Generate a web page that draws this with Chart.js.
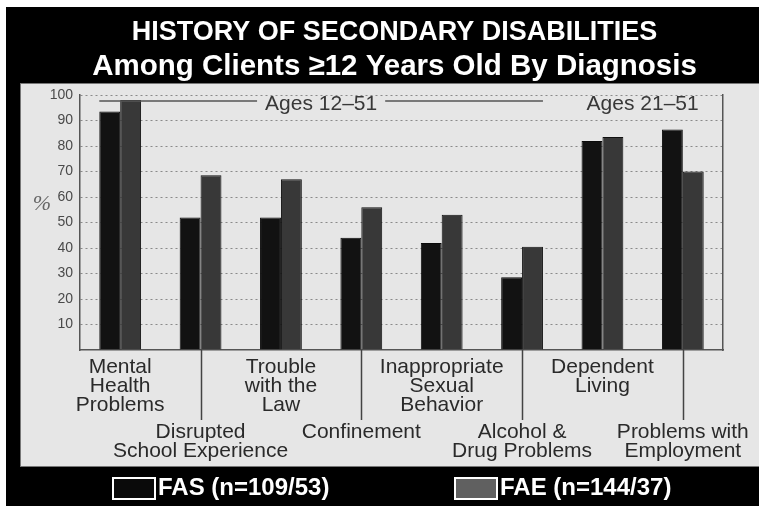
<!DOCTYPE html>
<html>
<head>
<meta charset="utf-8">
<title>History of Secondary Disabilities</title>
<script src="https://cdn.jsdelivr.net/npm/chart.js@4/dist/chart.umd.min.js"></script>
<style>
  html, body { margin: 0; padding: 0; background: #fff; }
  #chart { position: absolute; left: 6px; top: 7px; background: #000; }
</style>
</head>
<body>
<canvas id="chart" width="753" height="499"></canvas>
<script>
const categories = [
  ['Mental', 'Health', 'Problems'],
  ['Disrupted', 'School Experience'],
  ['Trouble', 'with the', 'Law'],
  ['Confinement'],
  ['Inappropriate', 'Sexual', 'Behavior'],
  ['Alcohol &', 'Drug Problems'],
  ['Dependent', 'Living'],
  ['Problems with', 'Employment'],
];
const fasValues = [93.5, 52, 52, 44, 42, 28.5, 82, 86.5];
const faeValues = [98, 68.5, 67, 56, 53, 40.5, 83.5, 70];
const seriesLabels = ['FAS (n=109/53)', 'FAE (n=144/37)'];
const ageGroups = ['Ages 12–51', 'Ages 21–51'];
const ageGroupSpans = [[0, 5], [6, 7]];
const yMax = 100;
const yStep = 10;

const CATEGORY_PCT = 0.52;
const LABEL_FONT = { size: 21, lineHeight: '19px' };
const LABEL_COLOR = '#2a2a2a';

Chart.defaults.font.family = "'Liberation Sans', Arial, sans-serif";

// Light gray slide panel behind the plot
const panelPlugin = {
  id: 'panel',
  beforeDraw(chart) {
    const { ctx, chartArea } = chart;
    const top = chartArea.top - 12;
    const bottom = chart.scales.x2.bottom + 5;
    const left = chartArea.left - 60;
    ctx.save();
    ctx.fillStyle = '#e6e6e6';
    ctx.fillRect(left, top, chart.width - left, bottom - top);
    ctx.strokeStyle = '#777';
    ctx.lineWidth = 1;
    ctx.strokeRect(left + 0.5, top + 0.5, chart.width - left, bottom - top);
    ctx.restore();
  },
};

// Age group headers, the % sign and the leader lines to the lower labels
const notesPlugin = {
  id: 'notes',
  afterDatasetsDraw(chart) {
    const { ctx, chartArea } = chart;
    const x = chart.scales.x;
    const y = chart.scales.y;
    const half = (x.getPixelForValue(1) - x.getPixelForValue(0)) * CATEGORY_PCT / 2;
    const textY = y.getPixelForValue(96.5);
    const lineY = y.getPixelForValue(97.6);

    ctx.save();
    ctx.font = "21px 'Liberation Sans', Arial, sans-serif";
    ctx.fillStyle = '#383838';
    ctx.strokeStyle = '#555';
    ctx.lineWidth = 1.5;
    ctx.textAlign = 'center';
    ctx.textBaseline = 'middle';
    ageGroups.forEach((label, i) => {
      const [from, to] = ageGroupSpans[i];
      const left = x.getPixelForValue(from) - half;
      const right = x.getPixelForValue(to) + half;
      const mid = (left + right) / 2;
      const w = ctx.measureText(label).width;
      ctx.fillText(label, mid, textY);
      if (right - left - w > 16) {
        ctx.beginPath();
        ctx.moveTo(left, lineY);
        ctx.lineTo(mid - w / 2 - 8, lineY);
        ctx.moveTo(mid + w / 2 + 8, lineY);
        ctx.lineTo(right, lineY);
        ctx.stroke();
      }
    });

    ctx.strokeStyle = '#444';
    ctx.beginPath();
    categories.forEach((c, i) => {
      if (i % 2 === 1) {
        const px = Math.round(x.getPixelForValue(i)) + 0.5;
        ctx.moveTo(px, chartArea.bottom);
        ctx.lineTo(px, chartArea.bottom + 70);
      }
    });
    ctx.stroke();

    ctx.font = "italic 22px 'Liberation Serif', serif";
    ctx.fillStyle = '#666';
    ctx.fillText('%', chartArea.left - 38, y.getPixelForValue(57));
    ctx.restore();
  },
};

// Legend under the panel
const legendPlugin = {
  id: 'slideLegend',
  afterDraw(chart) {
    const { ctx } = chart;
    const lefts = [107, 449];
    const cy = chart.height - 18;
    ctx.save();
    ctx.font = "bold 24px 'Liberation Sans', Arial, sans-serif";
    ctx.textBaseline = 'middle';
    ctx.textAlign = 'left';
    chart.data.datasets.forEach((ds, i) => {
      const bx = lefts[i];
      ctx.fillStyle = ds.legendColor;
      ctx.fillRect(bx, cy - 10, 42, 21);
      ctx.strokeStyle = '#fff';
      ctx.lineWidth = 2;
      ctx.strokeRect(bx, cy - 10, 42, 21);
      ctx.fillStyle = '#fff';
      ctx.fillText(ds.label, bx + 45, cy);
    });
    ctx.restore();
  },
};

new Chart(document.getElementById('chart'), {
  type: 'bar',
  data: {
    labels: categories,
    datasets: [
      {
        label: seriesLabels[0],
        data: fasValues,
        backgroundColor: '#121212',
        borderColor: '#0a0a0a',
        borderWidth: 1,
        legendColor: '#0a0a0a',
      },
      {
        label: seriesLabels[1],
        data: faeValues,
        backgroundColor: '#383838',
        borderColor: '#111',
        borderWidth: 1,
        legendColor: '#606060',
      },
    ],
  },
  options: {
    responsive: false,
    animation: false,
    layout: { padding: { left: 24, right: 0, top: 0, bottom: 45 } },
    datasets: {
      bar: { barPercentage: 1, categoryPercentage: CATEGORY_PCT },
    },
    plugins: {
      legend: { display: false },
      tooltip: { enabled: false },
      title: {
        display: true,
        text: 'HISTORY OF SECONDARY DISABILITIES',
        color: '#fff',
        font: { size: 27, weight: 'bold', lineHeight: '32px' },
        padding: { top: 10, bottom: 0 },
      },
      subtitle: {
        display: true,
        text: 'Among Clients ≥12 Years Old By Diagnosis',
        color: '#fff',
        font: { size: 29.5, weight: 'bold', lineHeight: '34px' },
        padding: { top: 1, bottom: 11 },
      },
    },
    scales: {
      x: {
        offset: true,
        grid: { display: false, drawTicks: false },
        border: { display: true, color: '#555', width: 1.5 },
        ticks: {
          autoSkip: false,
          maxRotation: 0,
          minRotation: 0,
          padding: 7.5,
          color: LABEL_COLOR,
          font: LABEL_FONT,
          callback: (v, i) => (i % 2 === 0 ? categories[i] : ''),
        },
      },
      x2: {
        type: 'category',
        position: 'bottom',
        offset: true,
        grid: { display: false, drawTicks: false },
        border: { display: false },
        ticks: {
          autoSkip: false,
          maxRotation: 0,
          minRotation: 0,
          padding: 0.5,
          color: LABEL_COLOR,
          font: LABEL_FONT,
          callback: (v, i) => (i % 2 === 1 ? categories[i] : ''),
        },
      },
      y: {
        min: 0,
        max: yMax,
        afterFit: (scale) => { scale.width = 50; },
        grid: {
          drawTicks: false,
          color: (ctx) => (ctx.index === 0 ? 'rgba(0,0,0,0)' : '#8a8a8a'),
        },
        border: { display: true, color: '#555', width: 1.5, dash: [2, 3] },
        ticks: {
          stepSize: yStep,
          padding: 7,
          color: '#4a4a4a',
          font: { size: 14 },
          callback: (v) => (v === 0 ? '' : v),
        },
      },
      y2: {
        position: 'right',
        afterFit: (scale) => { scale.width = 36; },
        grid: { drawOnChartArea: false, drawTicks: false },
        border: { display: true, color: '#555', width: 1.5 },
        ticks: { display: false },
      },
    },
  },
  plugins: [panelPlugin, notesPlugin, legendPlugin],
});
</script>
</body>
</html>
